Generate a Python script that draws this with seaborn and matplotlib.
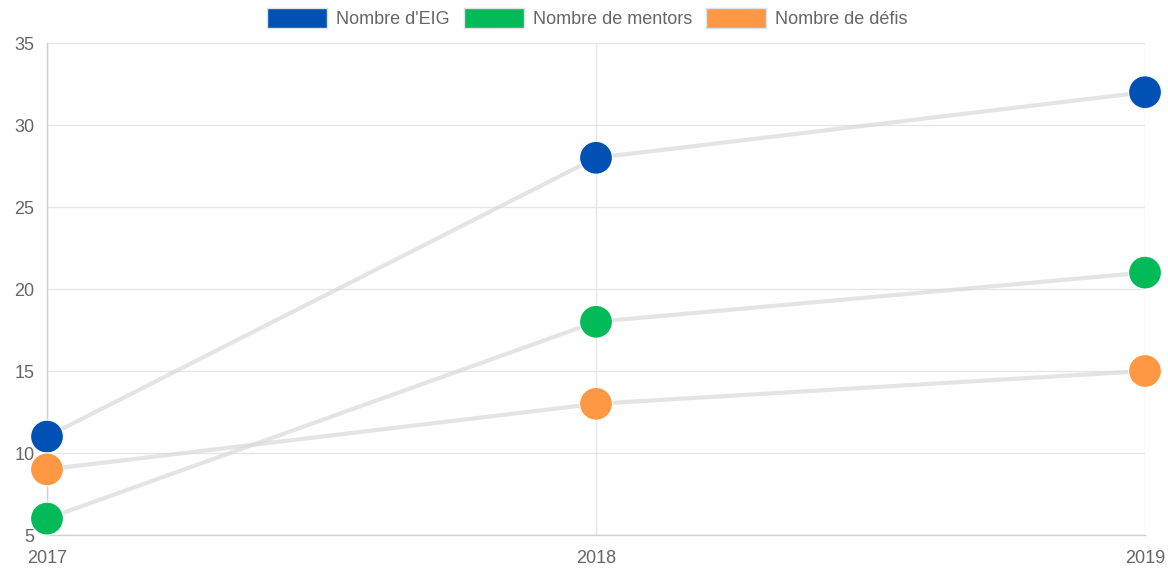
import matplotlib
matplotlib.use("Agg")
import matplotlib.pyplot as plt
import seaborn as sns
import pandas as pd
from matplotlib.patches import Patch

years = ["2017", "2018", "2019"]
series_names = ["Nombre d'EIG", "Nombre de mentors", "Nombre de défis"]
eig = [11, 28, 32]
mentors = [6, 18, 21]
defis = [9, 13, 15]
colors = ["#0151B4", "#02BA57", "#FF9845"]
y_ticks = [5, 10, 15, 20, 25, 30, 35]

sns.set_theme(style="white")
plt.rcParams['font.family'] = ['Liberation Sans', 'DejaVu Sans']

rows = []
for name, vals in zip(series_names, [eig, mentors, defis]):
    for i, (yr, v) in enumerate(zip(years, vals)):
        rows.append({"series": name, "year": yr, "x": i, "value": v})
df = pd.DataFrame(rows)

fig = plt.figure(figsize=(11.68, 5.68), dpi=100)
ax = fig.add_axes([47/1168, 1-535/568, (1145-47)/1168, (535-43)/568])

sns.lineplot(data=df, x="x", y="value", units="series", estimator=None,
             color="#d9d9d9", linewidth=3.0, alpha=0.7, ax=ax, legend=False,
             zorder=2)
sns.scatterplot(data=df, x="x", y="value", hue="series", palette=colors,
                hue_order=series_names, s=560, edgecolor="white", linewidth=0.8,
                ax=ax, legend=False, zorder=3, clip_on=False)
for c in ax.collections:
    c.set_clip_on(False)

ax.set_xlim(0, 2)
ax.set_ylim(5, 35)
ax.set_xticks(range(len(years)))
ax.set_xticklabels(years)
ax.set_yticks(y_ticks)
ax.set_xlabel("")
ax.set_ylabel("")
ax.grid(True, color="#e6e6e6", linewidth=1.0, zorder=0)
ax.set_axisbelow(True)
for s in ["top", "right"]:
    ax.spines[s].set_visible(False)
for s in ["left", "bottom"]:
    ax.spines[s].set_color("#d0d0d0")
    ax.spines[s].set_linewidth(1.0)
ax.tick_params(axis="both", colors="#666666", labelsize=13, length=7,
               width=1.0, direction="out")
ax.tick_params(axis="x", color="#e6e6e6", pad=4)
ax.tick_params(axis="y", color="#e6e6e6", pad=2)
for lbl in ax.get_xticklabels() + ax.get_yticklabels():
    lbl.set_color("#666666")

handles = [Patch(facecolor=c, edgecolor="#dde3ea", linewidth=1.0, label=n)
           for c, n in zip(colors, series_names)]
leg = fig.legend(handles=handles, loc="center", bbox_to_anchor=(0.503, 1-18/568),
                 ncol=3, frameon=False, fontsize=13, handlelength=3.3,
                 handleheight=1.4, handletextpad=0.5, columnspacing=0.8,
                 labelcolor="#666666")

fig.savefig("out.png", dpi=100)
